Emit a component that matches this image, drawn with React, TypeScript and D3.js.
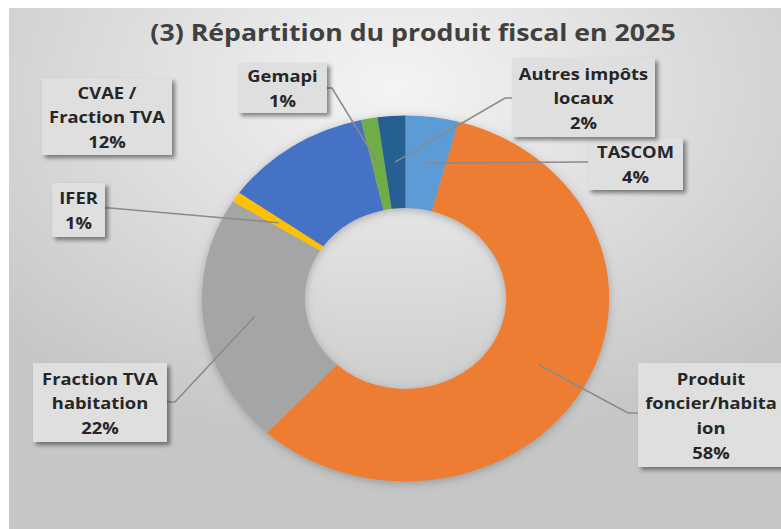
import React from 'react';
import * as d3 from 'd3';

// slices clockwise from 12 o'clock
const categories = [
    'TASCOM',
    'Produit foncier/habitation',
    'Fraction TVA habitation',
    'IFER',
    'CVAE / Fraction TVA',
    'Gemapi',
    'Autres impôts locaux',
];
const shares = [4.2, 57.7, 22.0, 0.9, 11.7, 1.3, 2.2];
const colors = ['#5B9BD5', '#ED7D31', '#A5A5A5', '#FFC000', '#4472C4', '#70AD47', '#255E91'];
// how the labels wrap in the picture (the long one runs off the right edge there)
const labelLines = [
    ['TASCOM'],
    ['Produit', 'foncier/habita', 'ion'],
    ['Fraction TVA', 'habitation'],
    ['IFER'],
    ['CVAE /', 'Fraction TVA'],
    ['Gemapi'],
    ['Autres impôts', 'locaux'],
];
const title = '(3) Répartition du produit fiscal en 2025';

// label box placement: [x, y, w, h], text centre x, leader start + elbow (null = no leader)
const labelLayout = [
    {box: [588, 138, 95, 52], tx: 635.5, anchor: [588, 162], elbow: [583, 162]},
    {box: [638, 363, 160, 104], tx: 711, anchor: [638, 413], elbow: [628, 413]},
    {box: [33, 363, 134, 79], tx: 100, anchor: [167, 402], elbow: [175, 402]},
    {box: [52, 183, 53, 54], tx: 78.5, anchor: [105, 208], elbow: [110, 208]},
    {box: [42, 78, 130, 77], tx: 107, anchor: null, elbow: null},
    {box: [238, 63, 89, 50], tx: 282.5, anchor: [327, 88], elbow: [332, 88]},
    {box: [512, 58, 143, 79], tx: 583.5, anchor: [512, 98], elbow: [505, 98]},
];

const width = 781, height = 529;
const cx = 405.5, cy = 298.5;
const stretch = 1.113; // the source picture is stretched horizontally
const outerR = 183, innerR = 90.5;
const lineH = 24.6;
const font = '"Open Sans", sans-serif';

export default function App() {
    const total = d3.sum(shares);
    const pct = d3.format('.0%');
    const pie = d3.pie<number>().sort(null).value(d => d)(shares);
    const arc = d3.arc<d3.PieArcDatum<number>>().innerRadius(innerR).outerRadius(outerR);

    return (
        <svg width={width} height={height} style={{position: 'fixed', left: 0, top: 0, background: '#fff'}}>
            <defs>
                <radialGradient id="bg" cx="0.5" cy="0.15" r="0.7">
                    <stop offset="0" stopColor="#f4f4f4"/>
                    <stop offset="0.45" stopColor="#e0e0e0"/>
                    <stop offset="1" stopColor="#c6c6c6"/>
                </radialGradient>
                <filter id="boxShadow" x="-20%" y="-20%" width="150%" height="150%">
                    <feDropShadow dx="3" dy="3" stdDeviation="2" floodColor="#000" floodOpacity="0.45"/>
                </filter>
                <filter id="ringShadow" x="-20%" y="-20%" width="140%" height="140%">
                    <feDropShadow dx="0" dy="2" stdDeviation="4" floodColor="#555" floodOpacity="0.4"/>
                </filter>
            </defs>
            <rect x={9} y={8} width={width - 9} height={height - 8} fill="url(#bg)"/>

            <text transform={`translate(413,32) scale(${stretch},1)`} textAnchor="middle" dominantBaseline="central"
                  fontFamily={font} fontWeight="bold" fontSize={24} fill="#404040">{title}</text>

            <g transform={`translate(${cx},${cy}) scale(${stretch},1)`} filter="url(#ringShadow)">
                {pie.map((d, i) => (
                    <path key={categories[i]} d={arc(d) || ''} fill={colors[i]}/>
                ))}
            </g>

            {pie.map((d, i) => {
                const l = labelLayout[i];
                if (!l.anchor) return null;
                const [mx, my] = arc.centroid(d);
                const end = [cx + mx * stretch, cy + my];
                const pts = [l.anchor, l.elbow, end];
                return <path key={'leader' + i} d={d3.line()(pts as [number, number][]) || ''}
                             fill="none" stroke="#8a8a8a" strokeWidth={1.6}/>;
            })}

            {pie.map((d, i) => {
                const {box, tx} = labelLayout[i];
                const [bx, by, bw, bh] = box;
                const lines = [...labelLines[i], pct(shares[i] / total)];
                const midY = by + bh / 2;
                return (
                    <g key={'label' + i}>
                        <rect x={bx} y={by} width={bw} height={bh} fill="#dfdfdf" filter="url(#boxShadow)"/>
                        {lines.map((t, j) => (
                            <text key={j}
                                  transform={`translate(${tx},${midY + (j - (lines.length - 1) / 2) * lineH}) scale(${stretch},1)`}
                                  textAnchor="middle" dominantBaseline="central"
                                  fontFamily={font} fontWeight="bold" fontSize={16.5} fill="#262626">{t}</text>
                        ))}
                    </g>
                );
            })}
        </svg>
    );
}
